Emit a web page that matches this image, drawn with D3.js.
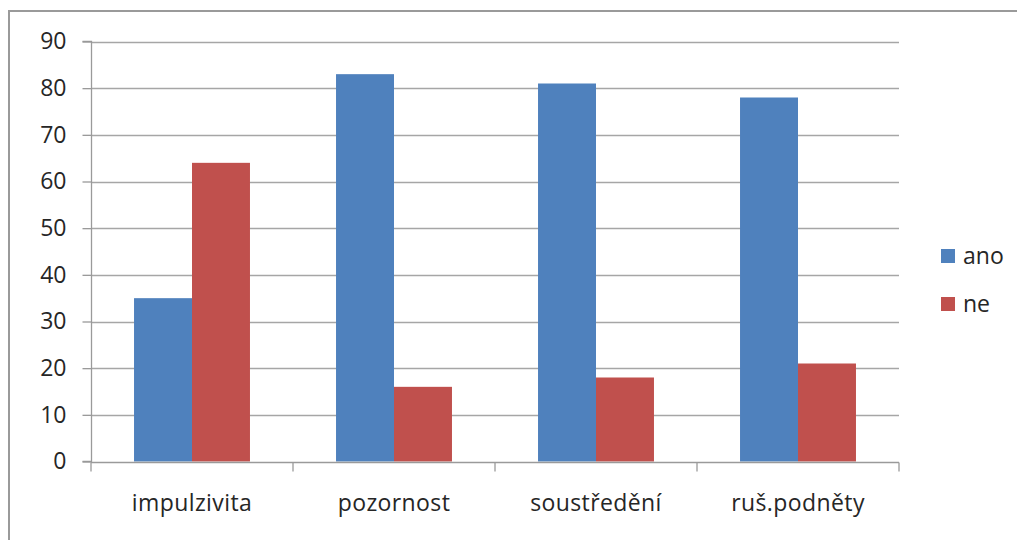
<!DOCTYPE html>
<html><head><meta charset="utf-8">
<script src="https://cdn.jsdelivr.net/npm/d3@7"></script>
<style>html,body{margin:0;padding:0;background:#fff;overflow:hidden}</style>
</head><body>
<svg id="c" width="1017" height="540"></svg>
<script>
const categories = ["impulzivita", "pozornost", "soustředění", "ruš.podněty"];
const seriesNames = ["ano", "ne"];
const ano = [35, 83, 81, 78];
const ne = [64, 16, 18, 21];
const yTicks = [0, 10, 20, 30, 40, 50, 60, 70, 80, 90];
const colors = ["#4F81BD", "#C0504D"];

(function () {
const svg = d3.select("#c");
const font = "'Open Sans', sans-serif";
const fs = 23;
const txt = "#262626";
const pLeft = 91, pRight = 899, pTop = 41.5, pBottom = 461.5;

svg.append("rect").attr("x", 9).attr("y", 11).attr("width", 1100).attr("height", 600)
  .attr("fill", "#fff").attr("stroke", "#9a9a9a").attr("stroke-width", 2);

const x0 = d3.scaleBand().domain(categories).range([pLeft, pRight]).paddingInner(0).paddingOuter(0);
const bw = x0.bandwidth() * 0.287;
const y = d3.scaleLinear().domain([0, 90]).range([pBottom, pTop]);

// gridlines
svg.append("g").selectAll("line").data(yTicks.filter(d => d > 0)).join("line")
  .attr("x1", pLeft).attr("x2", pRight)
  .attr("y1", d => Math.round(y(d)) + 0.5).attr("y2", d => Math.round(y(d)) + 0.5)
  .attr("stroke", "#a6a6a6").attr("stroke-width", 1.3);

// bars
const data = categories.map((c, i) => ({c, vals: [ano[i], ne[i]]}));
const g = svg.append("g");
data.forEach(d => {
  const cx = x0(d.c) + x0.bandwidth() / 2;
  d.vals.forEach((v, j) => {
    g.append("rect")
      .attr("x", cx - bw + j * bw).attr("width", bw)
      .attr("y", y(v)).attr("height", y(0) - y(v))
      .attr("fill", colors[j]);
  });
});

// y axis
const yAxis = d3.axisLeft(y).tickValues(yTicks).tickSize(9).tickPadding(16);
const ya = svg.append("g").attr("transform", `translate(${pLeft + 0.5},0)`).call(yAxis);
ya.select(".domain").attr("stroke", "#9a9a9a").attr("stroke-width", 1.3).attr("d", `M-9,${pTop}H0V${pBottom}H-9`);
ya.selectAll(".tick line").attr("stroke", "#9a9a9a").attr("stroke-width", 1.3);
ya.selectAll(".tick text").attr("font-family", font).attr("font-size", fs).attr("fill", txt);

// x axis
const xa = svg.append("g").attr("transform", `translate(0,${Math.round(pBottom) + 0.5})`);
xa.append("line").attr("x1", pLeft).attr("x2", pRight).attr("stroke", "#9a9a9a").attr("stroke-width", 1.3);
const bounds = categories.map(c => x0(c)).concat([pRight]);
xa.selectAll("line.t").data(bounds).join("line").attr("class", "t")
  .attr("x1", d => d).attr("x2", d => d).attr("y1", 0).attr("y2", 9)
  .attr("stroke", "#9a9a9a").attr("stroke-width", 1.3);
xa.selectAll("text").data(categories).join("text")
  .attr("x", d => x0(d) + x0.bandwidth() / 2).attr("y", 48)
  .attr("text-anchor", "middle").attr("font-family", font).attr("font-size", fs).attr("fill", txt)
  .attr("letter-spacing", 0.4)
  .text(d => d);

// legend
const lg = svg.append("g");
seriesNames.forEach((s, i) => {
  const yy = 249 + i * 48;
  lg.append("rect").attr("x", 941).attr("y", yy).attr("width", 14).attr("height", 14).attr("fill", colors[i]);
  lg.append("text").attr("x", 963).attr("y", yy + 15).attr("font-family", font).attr("font-size", fs).attr("fill", txt).text(s);
});
})();
</script>
</body></html>
